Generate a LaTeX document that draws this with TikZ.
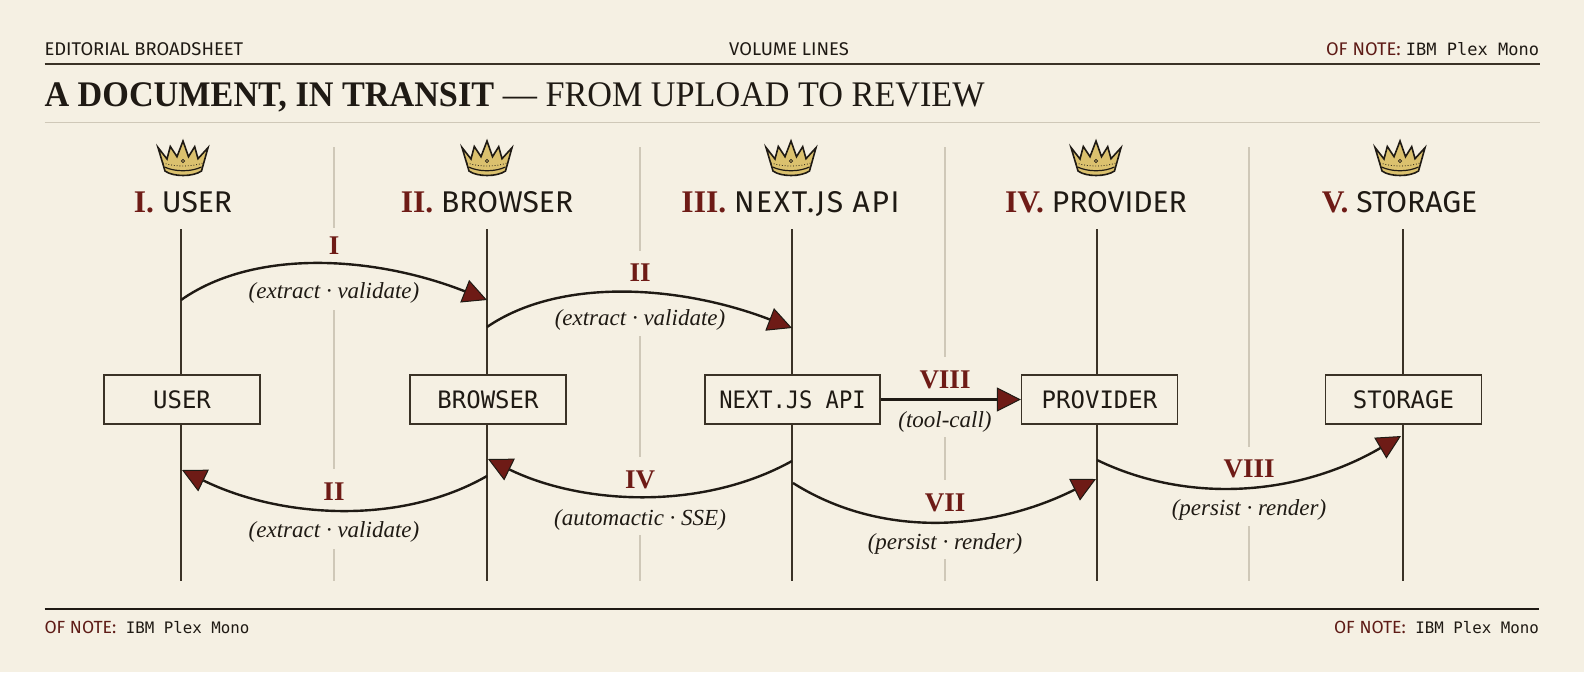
\documentclass[tikz,border=0pt]{standalone}
\usepackage{fontspec}
\setmainfont{Liberation Serif}
\newfontfamily\uisans{Fira Sans}
\newfontfamily\uimono{DejaVu Sans Mono}
\newfontfamily\uiserif{Liberation Serif}
\newfontfamily\titleserif[FakeStretch=0.95]{Liberation Serif}
\usetikzlibrary{arrows.meta}
\definecolor{paper}{HTML}{F5F0E3}
\definecolor{ink}{HTML}{1F1A14}
\definecolor{rule}{HTML}{3A3226}
\definecolor{oxblood}{HTML}{6E1B16}
\definecolor{faint}{HTML}{CFC8B8}
\definecolor{gold}{HTML}{DBC16E}
\newcommand{\fsz}[1]{\fontsize{#1}{#1}\selectfont}
\newcommand{\ofnote}[1]{{\uisans\fsz{#1}\color{oxblood!80!ink}OF NOTE:}}
\tikzset{
  x=1pt,y=-1pt,
  txt/.style={inner sep=0pt,outer sep=0pt,text=ink},
  meta/.style={txt,font=\uisans\fsz{18.4}},
  note/.style={txt,font=\uimono\fsz{15.8}},
  notebig/.style={txt,font=\uimono\fsz{17}},
  head/.style={txt,anchor=base,font=\uisans\fsz{30}},
  numeral/.style={txt,anchor=base,text=oxblood,font=\uiserif\bfseries\fsz{27}},
  gloss/.style={txt,anchor=base,font=\uiserif\itshape\fsz{23}},
  actor/.style={draw=rule,line width=1.2pt,fill=paper,minimum height=49pt,inner sep=0pt,text=ink,font=\uimono\fsz{24}},
  lifeline/.style={draw=rule,line width=1.4pt},
  divider/.style={draw=faint,line width=1.3pt},
  flow/.style={draw=ink,line width=2.4pt,-{Triangle[length=24pt,width=24pt,fill=oxblood,line width=1pt]}},
  crown/.pic={
    \draw[fill=gold,draw=ink,line width=1.6pt,line join=miter]
      (-25,6.5)--(-16,18)--(-12.7,5.5)--(-6,15.7)--(0,0)--(5.5,15.7)--(11.7,5.7)--(15,17.7)--(25,6.7)
      --(18.5,30) .. controls (10,36) and (-10,36) .. (-18,30) --cycle;
    \draw[ink,line width=1.2pt] (-18.5,26) .. controls (-8,31) and (8,31) .. (18.5,26);
    \draw[ink,line width=.8pt,dotted] (-20,22) .. controls (-8,26) and (8,26) .. (20,22);
    \draw[ink,line width=.7pt,fill=gold] (0,20) circle (1.6);
  },
}
\begin{document}
\begin{tikzpicture}
\useasboundingbox (0,0) rectangle (1584,672);
\fill[paper] (0,0) rectangle (1584,672);

% masthead
\node[meta,anchor=base west] (mastl) at (44.5,55) {EDITORIAL BROADSHEET};
\node[meta,anchor=base] (mastc) at (789,55) {VOLUME LINES};
\node[notebig,anchor=base east] (mastr) at (1539,55) {\ofnote{18.3}\hspace{-5pt} IBM Plex Mono};
\coordinate (r1a) at (44.5,64); \coordinate (r1b) at (1539.5,64);
\draw[rule,line width=1.7pt] (r1a) -- (r1b);
\node[txt,anchor=base west,font=\titleserif\fsz{36}] (title) at (44.5,106) {\textbf{A DOCUMENT, IN TRANSIT} — FROM UPLOAD TO REVIEW};
\coordinate (r2a) at (44.5,122.5); \coordinate (r2b) at (1539.5,122.5);
\draw[faint,line width=1.3pt] (r2a) -- (r2b);

% dividers
\foreach \x/\n/\a/\b/\c/\d/\e in {334/a/228/310/469/549/581,640/b/251/336/457/535/581,945/c/357/437/480/559/581}{
  \coordinate (d\n0) at (\x,147); \coordinate (d\n1) at (\x,\a);
  \coordinate (d\n2) at (\x,\b);  \coordinate (d\n3) at (\x,\c);
  \coordinate (d\n4) at (\x,\d);  \coordinate (d\n5) at (\x,\e);
  \draw[divider] (d\n0)--(d\n1) (d\n2)--(d\n3) (d\n4)--(d\n5);
}
\coordinate (dd0) at (1249,147); \coordinate (dd1) at (1249,447);
\coordinate (dd2) at (1249,526); \coordinate (dd3) at (1249,581);
\draw[divider] (dd0)--(dd1) (dd2)--(dd3);

% crowns and headers
\pic at (183,141) {crown};
\pic at (487,141) {crown};
\pic at (791,141) {crown};
\pic at (1096,141) {crown};
\pic at (1400,141) {crown};
\newcommand{\rn}[1]{{\uiserif\bfseries\color{oxblood}\fsz{31.5}#1}}
\node[head] (h1) at (183,212) {\rn{I.} USER};
\node[head] (h2) at (487,212) {\rn{II.} BROWSER};
\node[head] (h3) at (790.5,212) {\rn{III.} {\addfontfeature{LetterSpace=5.5}NEXT.JS API}};
\node[head] (h4) at (1096,212) {\rn{IV.} PROVIDER};
\node[head] (h5) at (1399.5,212) {\rn{V.} STORAGE};

% actor boxes
\node[actor,minimum width=156pt] (user) at (182,399.5) {USER};
\node[actor,minimum width=156pt] (browser) at (488,399.5) {BROWSER};
\node[actor,minimum width=175pt] (api) at (792.5,399.5) {\addfontfeature{FakeStretch=0.92}NEXT.JS API};
\node[actor,minimum width=156pt] (provider) at (1099.5,399.5) {PROVIDER};
\node[actor,minimum width=156pt] (storage) at (1403.5,399.5) {STORAGE};

% lifelines
\foreach \n/\x in {user/181,browser/487,api/792,provider/1097,storage/1403}{
  \coordinate (\n top) at (\x,229);
  \coordinate (\n bot) at (\x,581);
  \draw[lifeline] (\n top) -- (\x,375);
  \draw[lifeline] (\x,424) -- (\n bot);
}

% flows
\coordinate (f1a) at (181,300); \coordinate (f1b) at (487,300);
\draw[flow] (f1a) .. controls (255,248) and (375,256) .. (f1b);
\coordinate (f2a) at (487,327); \coordinate (f2b) at (792,328);
\draw[flow] (f2a) .. controls (560,277) and (680,285) .. (f2b);
\coordinate (f3a) at (487,476); \coordinate (f3b) at (182,470);
\draw[flow] (f3a) .. controls (400,526) and (280,518) .. (f3b);
\coordinate (f4a) at (792,461); \coordinate (f4b) at (488,459);
\draw[flow] (f4a) .. controls (700,512) and (580,504) .. (f4b);
\coordinate (f5a) at (793,483); \coordinate (f5b) at (1096,479);
\draw[flow] (f5a) .. controls (880,538) and (990,532) .. (f5b);
\coordinate (f6a) at (1097,460); \coordinate (f6b) at (1401,436);
\draw[flow] (f6a) .. controls (1190,505) and (1300,495) .. (f6b);
\draw[flow] (api.east) -- (provider.west);

% labels
\node[numeral] (n1) at (334,254) {I};
\node[gloss] (g1) at (334,298) {(extract · validate)};
\node[numeral] (n2) at (640,281) {II};
\node[gloss] (g2) at (640,325) {(extract · validate)};
\node[numeral] (n3) at (334,500) {II};
\node[gloss] (g3) at (334,537) {(extract · validate)};
\node[numeral] (n4) at (640,488) {IV};
\node[gloss] (g4) at (640,525) {(automactic · SSE)};
\node[numeral] (n5) at (945,511) {VII};
\node[gloss] (g5) at (945,549) {(persist · render)};
\node[numeral] (n6) at (945,388) {VIII};
\node[gloss] (g6) at (945,427) {(tool-call)};
\node[numeral] (n7) at (1249,477) {VIII};
\node[gloss] (g7) at (1249,515) {(persist · render)};

% footer
\coordinate (r3a) at (44.5,609); \coordinate (r3b) at (1539,609);
\draw[ink,line width=1.5pt] (r3a) -- (r3b);
\node[note,anchor=base west] (footl) at (44.5,633) {\ofnote{17.6} IBM Plex Mono};
\node[note,anchor=base east] (footr) at (1539,633) {\ofnote{17.6} IBM Plex Mono};
\end{tikzpicture}
\end{document}
